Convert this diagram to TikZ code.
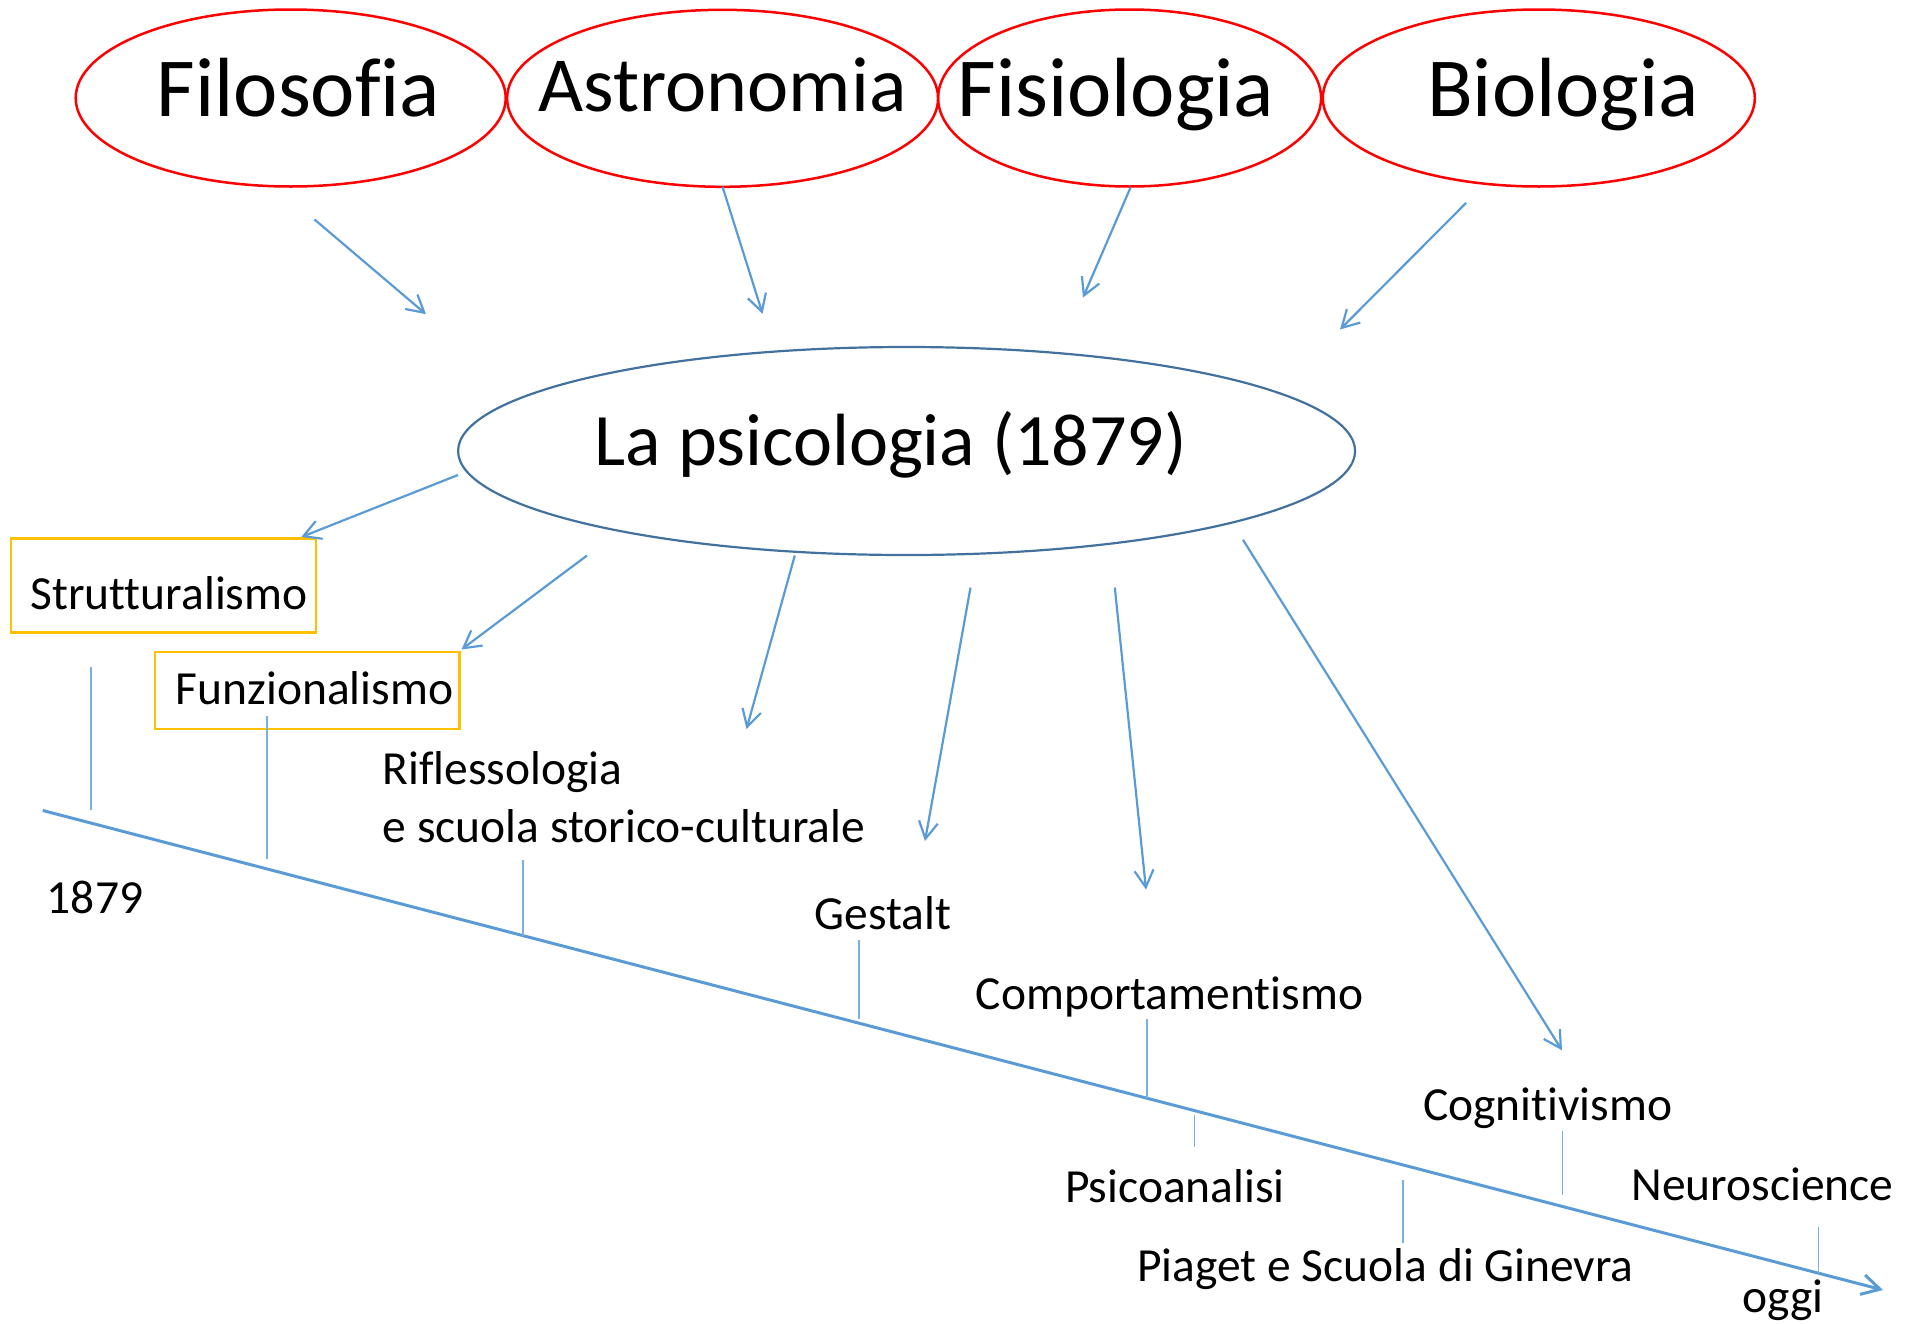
\documentclass[tikz,border=0pt]{standalone}
\usepackage{fontspec}
\setmainfont{Carlito}[Ligatures=NoCommon]
\usetikzlibrary{arrows.meta,shapes.geometric}
\definecolor{myred}{RGB}{255,0,0}
\definecolor{myblue}{RGB}{91,155,213}
\definecolor{mydarkblue}{RGB}{65,113,156}
\definecolor{myorange}{RGB}{255,192,0}

\newcommand\bigfont{\fontsize{84}{100}\selectfont}
\newcommand\midfont{\fontsize{74}{88}\selectfont}
\newcommand\smallfont{\fontsize{47.5}{57}\selectfont}

\tikzset{
  topell/.style={ellipse, draw=myred, line width=2.5pt, minimum height=177pt},
  psiell/.style={ellipse, draw=mydarkblue, line width=2.2pt},
  yearbox/.style={rectangle, draw=myorange, line width=2.5pt},
  bigtxt/.style={font=\bigfont, anchor=base},
  smalltxt/.style={font=\smallfont, anchor=base},
  arr/.style={myblue, line width=2.2pt, -{Straight Barb[length=17pt,width=19pt]}},
  timeline/.style={myblue, line width=3pt, -{Straight Barb[length=18pt,width=20pt]}},
  tick/.style={myblue!80, line width=1.4pt}
}

\begin{document}
\begin{tikzpicture}[x=1pt, y=-1pt, every node/.style={inner sep=0pt}]
  \useasboundingbox (0,0) rectangle (1911,1323);
  % --- source disciplines ---
  \node[topell, minimum width=430pt] (fil) at (290.7,98) {};
  \node[topell, minimum width=431pt] (ast) at (722.6,98.3) {};
  \node[topell, minimum width=383pt] (fis) at (1129.6,98) {};
  \node[topell, minimum width=432pt] (bio) at (1538.8,98) {};
  \node[bigtxt] (fil-t) at (298.6,116.7) {Filosofia};
  \node[bigtxt, font=\fontsize{78}{94}\selectfont] (ast-t) at (722.6,111) {Astronomia};
  \node[bigtxt] (fis-t) at (1115.9,116.7) {Fisiologia};
  \node[bigtxt] (bio-t) at (1563,116.7) {Biologia};
  % --- central node ---
  \node[psiell, minimum width=897pt, minimum height=208pt] (psi) at (906.6,451) {};
  \node[font=\midfont, anchor=base] (psi-t) at (891,465) {La psicologia (1879)};
  % --- framed schools ---
  \node[yearbox, minimum width=304.7pt, minimum height=94pt] (strut) at (163.4,585.7) {};
  \node[smalltxt] (strut-t) at (169,609.8) {Strutturalismo};
  \node[yearbox, minimum width=304.7pt, minimum height=77pt] (funz) at (307.2,690.4) {};
  \node[smalltxt] (funz-t) at (314.7,704.7) {Funzionalismo};
  % --- other schools ---
  \node[smalltxt, anchor=base west] (rif-a) at (382.5,784.5) {Riflessologia};
  \node[smalltxt, anchor=base west] (rif-b) at (382.5,842.6) {e scuola storico-culturale};
  \node[smalltxt] (year0) at (95,913.3) {1879};
  \node[smalltxt] (gest) at (883,929) {Gestalt};
  \node[smalltxt] (comp) at (1169.5,1009.3) {Comportamentismo};
  \node[smalltxt] (psan) at (1175,1202) {Psicoanalisi};
  \node[smalltxt] (piag) at (1385.5,1281) {Piaget e Scuola di Ginevra};
  \node[smalltxt] (cogn) at (1547.8,1120) {Cognitivismo};
  \node[smalltxt] (neur) at (1762.4,1200) {Neuroscience};
  \node[smalltxt] (oggi) at (1783,1312) {oggi};
  % --- arrow ends ---
  \coordinate (fil-o) at (314.4,219.4);  \coordinate (psi-i1) at (426,314.2);
  \coordinate (ast-o) at (722.6,187);    \coordinate (psi-i2) at (762.6,313.8);
  \coordinate (fis-o) at (1130.6,187.3); \coordinate (psi-i3) at (1083,297.5);
  \coordinate (bio-o) at (1466,203);     \coordinate (psi-i4) at (1340,329.5);
  \coordinate (psi-o1) at (458,475);     \coordinate (strut-i) at (301.3,537);
  \coordinate (psi-o2) at (587,555.5);   \coordinate (funz-i) at (461.5,649.5);
  \coordinate (psi-o3) at (794.8,555.5); \coordinate (rif-i) at (746.5,729);
  \coordinate (psi-o4) at (970.5,587.5); \coordinate (gest-i) at (925,841);
  \coordinate (psi-o5) at (1114.8,587.5);\coordinate (comp-i) at (1146,889.5);
  \coordinate (psi-o6) at (1243,539.8);  \coordinate (cogn-i) at (1562,1050.3);
  % --- arrows into and out of the central node ---
  \foreach \s/\e in {fil-o/psi-i1, ast-o/psi-i2, fis-o/psi-i3, bio-o/psi-i4,
                     psi-o1/strut-i, psi-o2/funz-i, psi-o3/rif-i,
                     psi-o4/gest-i, psi-o5/comp-i, psi-o6/cogn-i}{
    \draw[arr] (\s) -- (\e);
  }
  % --- timeline ---
  \coordinate (t-start) at (42.8,810.5);
  \coordinate (t-end) at (1883,1290);
  \draw[timeline] (t-start) -- (t-end);
  % --- ticks ---
  \foreach \x/\a/\b in {91/666.7/810.3, 267/716/858.7, 523/859.5/935.5,
                        859/939.5/1018.6, 1146.8/1019.2/1098, 1194.5/1115/1146.8,
                        1402.8/1179.5/1243, 1562.6/1131/1195, 1818.7/1227/1273.5}{
    \draw[tick] (\x,\a) -- (\x,\b);
  }
\end{tikzpicture}
\end{document}
